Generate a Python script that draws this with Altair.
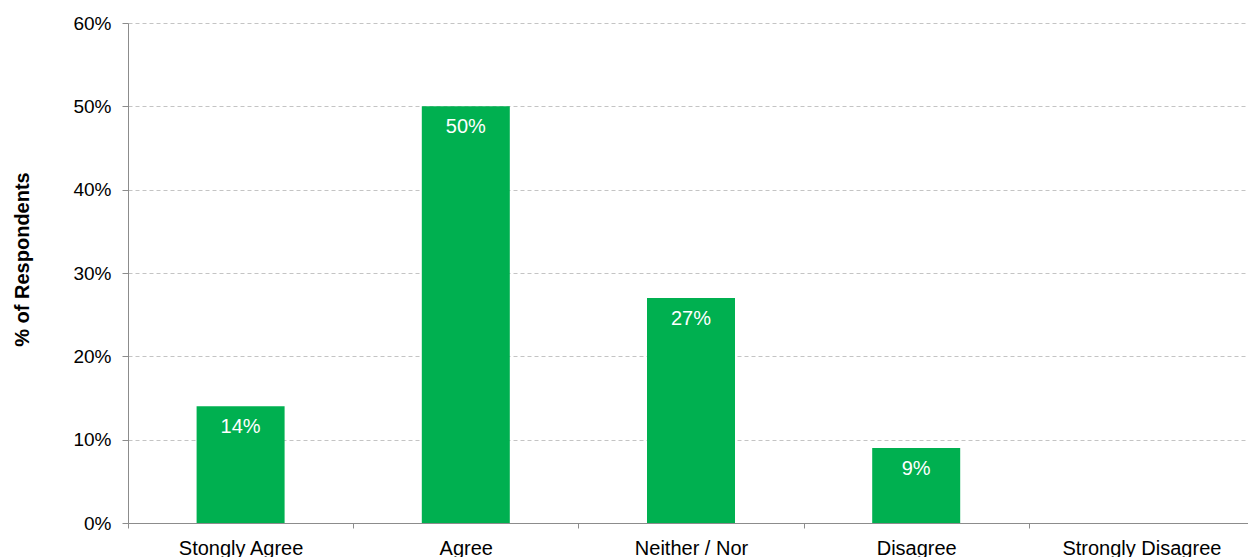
import altair as alt
import pandas as pd

# Survey responses: share of respondents per answer
categories = ["Stongly Agree", "Agree", "Neither / Nor", "Disagree", "Strongly Disagree"]
shares = [0.14, 0.50, 0.27, 0.09, 0.0]
labels = ["14%", "50%", "27%", "9%", ""]

df = pd.DataFrame({"answer": categories, "share": shares, "label": labels})

FONT = "Liberation Sans"
GREEN = "#00B050"
AXIS_GRAY = "#8C8C8C"

x_enc = alt.X(
    "answer:N",
    sort=categories,
    scale=alt.Scale(paddingInner=0, paddingOuter=0, range=[0, 1126]),
    axis=alt.Axis(
        title=None,
        labelAngle=0,
        labelFont=FONT,
        labelFontSize=20,
        labelColor="#000000",
        labelPadding=10,
        labelBaseline="top",
        tickBand="extent",
        tickSize=5,
        tickColor=AXIS_GRAY,
        domainColor=AXIS_GRAY,
        grid=False,
    ),
)

y_enc = alt.Y(
    "share:Q",
    scale=alt.Scale(domain=[0, 0.6], nice=False),
    axis=alt.Axis(
        title="% of Respondents",
        titleFont=FONT,
        titleFontSize=20,
        titleFontWeight="bold",
        titleColor="#000000",
        titleAngle=-90,
        titleX=-100,
        titleY=236,
        titleAlign="center",
        titleBaseline="alphabetic",
        format=".0%",
        values=[0, 0.1, 0.2, 0.3, 0.4, 0.5, 0.6],
        labelFont=FONT,
        labelFontSize=19,
        labelColor="#000000",
        labelPadding=11,
        tickSize=6,
        tickColor=AXIS_GRAY,
        domainColor=AXIS_GRAY,
        grid=True,
        gridColor="#C4C4C4",
        gridDash=[4, 3],
        gridWidth=1,
    ),
)

bars = alt.Chart(df).mark_bar(color=GREEN, size=88).encode(x=x_enc, y=y_enc)

text = (
    alt.Chart(df)
    .transform_filter("datum.share > 0")
    .mark_text(
        color="#FFFFFF",
        font=FONT,
        fontSize=20,
        baseline="alphabetic",
        align="center",
        dy=27,
    )
    .encode(
        x=alt.X("answer:N", sort=categories),
        y=alt.Y("share:Q"),
        text="label:N",
    )
)

chart = (
    alt.layer(bars, text)
    .properties(
        width=1120,
        height=500,
        autosize=alt.AutoSizeParams(type="none"),
        padding={"left": 128, "top": 23, "right": 0, "bottom": 34},
        background="#FFFFFF",
    )
    .configure_view(stroke=None)
)

chart.save("out.html", embed_options={"renderer": "svg", "actions": False})
